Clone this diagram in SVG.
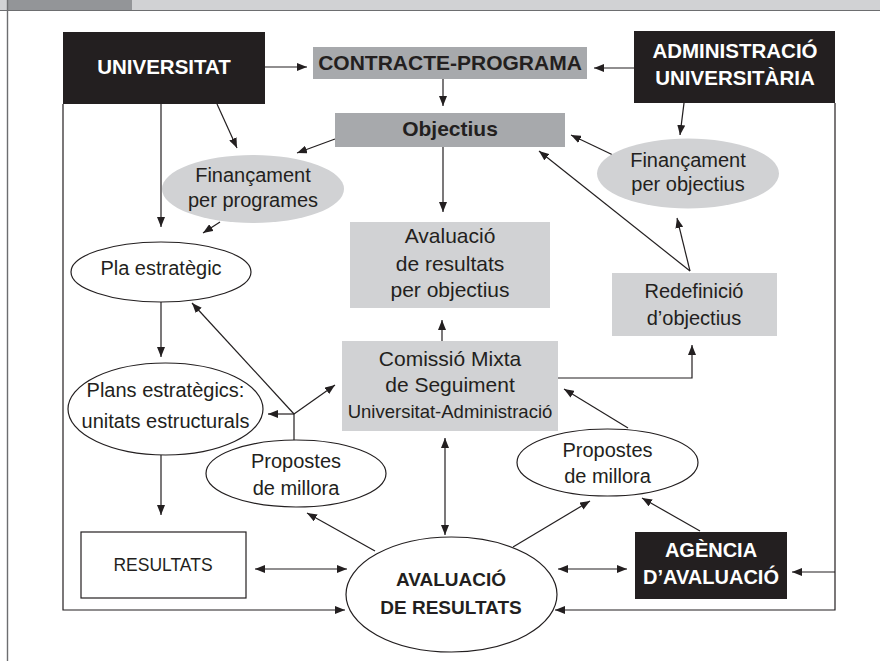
<svg xmlns="http://www.w3.org/2000/svg" width="880" height="661" viewBox="0 0 880 661">
  <style>
    text { font-family: "Liberation Sans", Arial, sans-serif; fill: #231f20; text-anchor: middle; }
    .b { font-weight: bold; }
    .w { fill: #ffffff; }
    .dark { fill: #231f20; }
    .mid { fill: #a7a9ac; }
    .light { fill: #d1d2d4; }
    .outline { fill: #ffffff; stroke: #231f20; stroke-width: 1.2; }
    .c { fill: none; stroke: #231f20; stroke-width: 1.2; }
    .a { marker-end: url(#ah); }
    .aa { marker-start: url(#ah); marker-end: url(#ah); }
  </style>
  <defs>
    <marker id="ah" markerUnits="userSpaceOnUse" markerWidth="10" markerHeight="8" refX="10" refY="4" orient="auto-start-reverse">
      <path d="M0,0 L10,4 L0,8 z" fill="#231f20"/>
    </marker>
  </defs>

  <!-- page frame -->
  <rect x="0" y="0" width="880" height="10" fill="#d1d2d4"/>
  <rect x="8" y="0" width="124" height="10" fill="#939598"/>
  <line x1="0" y1="10.5" x2="880" y2="10.5" stroke="#6d6e70" stroke-width="1.2"/>
  <line x1="7.5" y1="0" x2="7.5" y2="661" stroke="#6d6e70" stroke-width="1.4"/>

  <!-- connectors -->
  <g id="connectors">
    <line class="c a" x1="265" y1="67" x2="307" y2="67"/>
    <line class="c a" x1="634" y1="68" x2="594" y2="68"/>
    <line class="c a" x1="443" y1="79" x2="443" y2="106"/>
    <line class="c a" x1="443" y1="147" x2="443" y2="212"/>
    <line class="c a" x1="217" y1="104" x2="237" y2="148"/>
    <line class="c a" x1="335" y1="139" x2="297" y2="153"/>
    <line class="c a" x1="684" y1="103" x2="680" y2="135"/>
    <line class="c a" x1="613" y1="155" x2="571" y2="135"/>
    <line class="c a" x1="690" y1="271" x2="677" y2="218"/>
    <line class="c a" x1="690" y1="271" x2="539" y2="151"/>
    <line class="c a" x1="161" y1="104" x2="161" y2="227"/>
    <line class="c a" x1="220" y1="222" x2="203" y2="233"/>
    <line class="c a" x1="161" y1="302" x2="161" y2="357"/>
    <line class="c a" x1="161" y1="455" x2="161" y2="515"/>
    <line class="c a" x1="442" y1="341" x2="442" y2="320"/>
    <polyline class="c a" points="558,378 692,378 692,345"/>
    <!-- split from the left proposals -->
    <line class="c" x1="294" y1="440" x2="294" y2="414"/>
    <line class="c a" x1="294" y1="414" x2="268" y2="414"/>
    <line class="c a" x1="294" y1="414" x2="335" y2="385"/>
    <line class="c a" x1="294" y1="414" x2="192" y2="303"/>
    <line class="c a" x1="628" y1="428" x2="564" y2="389"/>
    <line class="c aa" x1="445" y1="438" x2="445" y2="535"/>
    <line class="c a" x1="375" y1="551" x2="307" y2="513"/>
    <line class="c a" x1="513" y1="547" x2="590" y2="501"/>
    <line class="c a" x1="700" y1="531" x2="642" y2="498"/>
    <line class="c aa" x1="255" y1="569" x2="347" y2="569"/>
    <line class="c aa" x1="558" y1="569" x2="627" y2="569"/>
    <polyline class="c a" points="63,104 63,610 345,610"/>
    <polyline class="c a" points="835,103 835,610 555,610"/>
    <line class="c a" x1="835" y1="572" x2="792" y2="572"/>
  </g>

  <!-- nodes -->
  <g id="universitat">
    <rect class="dark" x="63" y="32" width="202" height="72"/>
    <text class="b w" x="164" y="74" font-size="20.5">UNIVERSITAT</text>
  </g>
  <g id="contracte-programa">
    <rect class="mid" x="313" y="47" width="274" height="32"/>
    <text class="b" x="450" y="70" font-size="21">CONTRACTE-PROGRAMA</text>
  </g>
  <g id="administracio">
    <rect class="dark" x="634" y="31" width="201" height="72"/>
    <text class="b w" x="735" y="58" font-size="20.5">ADMINISTRACIÓ</text>
    <text class="b w" x="735" y="85" font-size="20.5">UNIVERSITÀRIA</text>
  </g>
  <g id="objectius">
    <rect class="mid" x="335" y="113" width="230" height="34"/>
    <text class="b" x="450" y="136" font-size="21">Objectius</text>
  </g>
  <g id="financament-programes">
    <ellipse class="light" cx="253" cy="189" rx="91" ry="34"/>
    <text x="253" y="182" font-size="20">Finançament</text>
    <text x="253" y="207" font-size="20">per programes</text>
  </g>
  <g id="financament-objectius">
    <ellipse class="light" cx="688" cy="173.5" rx="91" ry="35"/>
    <text x="688" y="167" font-size="20">Finançament</text>
    <text x="688" y="191" font-size="20">per objectius</text>
  </g>
  <g id="avaluacio-objectius">
    <rect class="light" x="350" y="222" width="200" height="86"/>
    <text x="450" y="243" font-size="21">Avaluació</text>
    <text x="450" y="271" font-size="21">de resultats</text>
    <text x="450" y="297" font-size="21">per objectius</text>
  </g>
  <g id="redefinicio">
    <rect class="light" x="612" y="273" width="165" height="63"/>
    <text x="694" y="298" font-size="20">Redefinició</text>
    <text x="694" y="325" font-size="20">d’objectius</text>
  </g>
  <g id="pla-estrategic">
    <ellipse class="outline" cx="161" cy="272" rx="90" ry="30"/>
    <text x="161" y="275" font-size="20">Pla estratègic</text>
  </g>
  <g id="comissio-mixta">
    <rect class="light" x="342" y="341" width="216" height="90"/>
    <text x="450" y="366" font-size="21">Comissió Mixta</text>
    <text x="450" y="392" font-size="21">de Seguiment</text>
    <text x="450" y="418" font-size="18.5">Universitat-Administració</text>
  </g>
  <g id="plans-estrategics">
    <ellipse class="outline" cx="165.5" cy="409" rx="97.5" ry="46"/>
    <text x="165.5" y="397" font-size="20">Plans estratègics:</text>
    <text x="165.5" y="428" font-size="20">unitats estructurals</text>
  </g>
  <g id="propostes-esquerra">
    <ellipse class="outline" cx="296" cy="473.5" rx="90" ry="33.5"/>
    <text x="296" y="468" font-size="20">Propostes</text>
    <text x="296" y="495" font-size="20">de millora</text>
  </g>
  <g id="propostes-dreta">
    <ellipse class="outline" cx="607.5" cy="462.5" rx="90.5" ry="33.5"/>
    <text x="607.5" y="457" font-size="20">Propostes</text>
    <text x="607.5" y="483" font-size="20">de millora</text>
  </g>
  <g id="resultats">
    <rect class="outline" x="81" y="532" width="165" height="66"/>
    <text x="163" y="571" font-size="17.5">RESULTATS</text>
  </g>
  <g id="avaluacio-resultats">
    <ellipse class="outline" cx="451.5" cy="594.5" rx="105.5" ry="57.5"/>
    <text class="b" x="451" y="586" font-size="19">AVALUACIÓ</text>
    <text class="b" x="451" y="614" font-size="19">DE RESULTATS</text>
  </g>
  <g id="agencia">
    <rect class="dark" x="635" y="532" width="152" height="67"/>
    <text class="b w" x="711" y="557" font-size="20">AGÈNCIA</text>
    <text class="b w" x="711" y="584" font-size="20">D’AVALUACIÓ</text>
  </g>
</svg>
